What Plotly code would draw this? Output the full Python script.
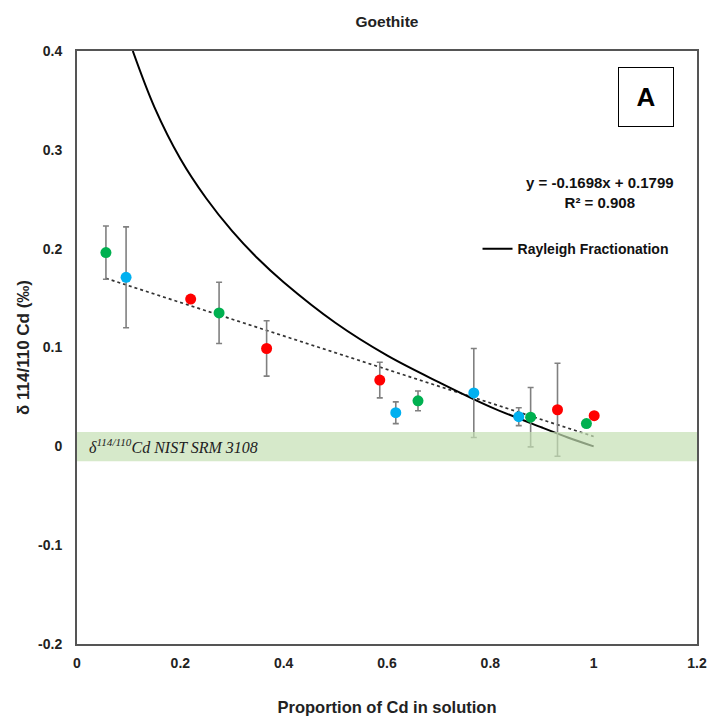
import plotly.graph_objects as go

# ---- data ----
red_x = [0.22, 0.367, 0.586, 0.93, 1.001]
red_y = [0.149, 0.099, 0.067, 0.037, 0.031]
red_err = [0.0, 0.028, 0.018, 0.047, 0.0]

green_x = [0.056, 0.275, 0.66, 0.878, 0.986]
green_y = [0.196, 0.135, 0.046, 0.0295, 0.023]
green_err = [0.027, 0.031, 0.010, 0.030, 0.0]

blue_x = [0.095, 0.617, 0.768, 0.855]
blue_y = [0.171, 0.034, 0.054, 0.030]
blue_err = [0.051, 0.011, 0.045, 0.009]

trend_x = [0.056, 1.0]
trend_y = [0.170, 0.010]

rayleigh_x = [0.108, 0.15, 0.2, 0.25, 0.3, 0.35, 0.4, 0.5, 0.6, 0.7, 0.8, 0.9, 0.95, 1.0]
rayleigh_y = [0.400, 0.343, 0.291, 0.251, 0.218, 0.190, 0.166, 0.125, 0.092, 0.065, 0.040, 0.019, 0.009, 0.0]

band_y = [-0.015, 0.0145]

x_ticks = [0, 0.2, 0.4, 0.6, 0.8, 1.0, 1.2]
x_ticktext = ["0", "0.2", "0.4", "0.6", "0.8", "1", "1.2"]
y_ticks = [-0.2, -0.1, 0, 0.1, 0.2, 0.3, 0.4]
y_ticktext = ["-0.2", "-0.1", "0", "0.1", "0.2", "0.3", "0.4"]

FONT = "Liberation Sans, Arial, sans-serif"
TXT = "#222222"

fig = go.Figure()

# trendline (dotted)
fig.add_trace(go.Scatter(x=trend_x, y=trend_y, mode="lines",
                         line=dict(color="#333333", width=1.7, dash="dot"),
                         showlegend=False, hoverinfo="skip"))

# Rayleigh curve
fig.add_trace(go.Scatter(x=rayleigh_x, y=rayleigh_y, mode="lines",
                         line=dict(color="black", width=2, shape="spline"),
                         name="<b>Rayleigh Fractionation</b>", showlegend=True))

def pts(xs, ys, errs, color):
    return go.Scatter(x=xs, y=ys, mode="markers",
                      marker=dict(color=color, size=11),
                      error_y=dict(type="data", array=errs, visible=True,
                                   color="#808080", thickness=1.6, width=3),
                      showlegend=False)

fig.add_trace(pts(green_x, green_y, green_err, "#00b050"))
fig.add_trace(pts(blue_x, blue_y, blue_err, "#00b0f0"))
fig.add_trace(pts(red_x, red_y, red_err, "#ff0000"))

# NIST SRM 3108 band
fig.add_shape(type="rect", xref="paper", x0=0, x1=1, yref="y",
              y0=band_y[0], y1=band_y[1], fillcolor="rgb(197,224,180)",
              opacity=0.7, line=dict(width=0), layer="above")

fig.add_annotation(x=0.02, y=0, xref="x", yref="y", xanchor="left", yanchor="middle",
                   text="<i>δ<sup>114/110</sup>Cd NIST SRM 3108</i>", showarrow=False,
                   font=dict(family="Liberation Serif, Times New Roman, serif",
                             size=16, color=TXT))

fig.add_annotation(x=0.843, y=0.762, xref="paper", yref="paper",
                   xanchor="center", yanchor="middle",
                   text="<b>y = -0.1698x + 0.1799</b><br><b>R² = 0.908</b>",
                   showarrow=False, align="center",
                   font=dict(family=FONT, size=15, color="#111"))

fig.add_annotation(x=0.918, y=0.922, xref="paper", yref="paper",
                   xanchor="center", yanchor="middle",
                   text="<b>A</b>", showarrow=False,
                   font=dict(family=FONT, size=26, color="black"),
                   bordercolor="black", borderwidth=1, width=52, height=56,
                   bgcolor="white")

fig.update_layout(
    width=710, height=716,
    margin=dict(l=77, r=13, t=51, b=72, autoexpand=False),
    paper_bgcolor="white", plot_bgcolor="white",
    font=dict(family=FONT, color=TXT),
    title=dict(text="<b>Goethite</b>", x=0.5, xref="paper", yref="container",
               y=1 - 22 / 716, yanchor="middle", automargin=False,
               font=dict(family=FONT, size=15.5, color=TXT)),
    legend=dict(x=0.646, y=0.666, xanchor="left", yanchor="middle",
                bgcolor="rgba(0,0,0,0)", font=dict(family=FONT, size=14, color="#111")),
    showlegend=True,
)

fig.update_xaxes(range=[0, 1.2], tickvals=x_ticks,
                 ticktext=["<b>%s</b>" % t for t in x_ticktext],
                 showgrid=False, zeroline=False, showline=True, mirror=True,
                 linecolor="#555", linewidth=2, ticks="", ticklabelstandoff=5,
                 automargin=False,
                 tickfont=dict(family=FONT, size=14, color=TXT),
                 title=dict(text="<b>Proportion of Cd in solution</b>", standoff=32,
                            font=dict(family=FONT, size=16.5, color=TXT)))
fig.update_yaxes(range=[-0.2, 0.4], tickvals=y_ticks,
                 ticktext=["<b>%s</b>" % t for t in y_ticktext],
                 showgrid=False, zeroline=False, showline=True, mirror=True,
                 linecolor="#555", linewidth=2, ticks="", ticklabelstandoff=10,
                 automargin=False,
                 tickfont=dict(family=FONT, size=14, color=TXT),
                 title=dict(text="<b>δ 114/110 Cd (‰)</b>", standoff=4,
                            font=dict(family=FONT, size=17, color=TXT)))

fig.write_html("out.html", config={"displayModeBar": False},
               post_script="document.body.style.margin='0';document.body.style.padding='0';")
